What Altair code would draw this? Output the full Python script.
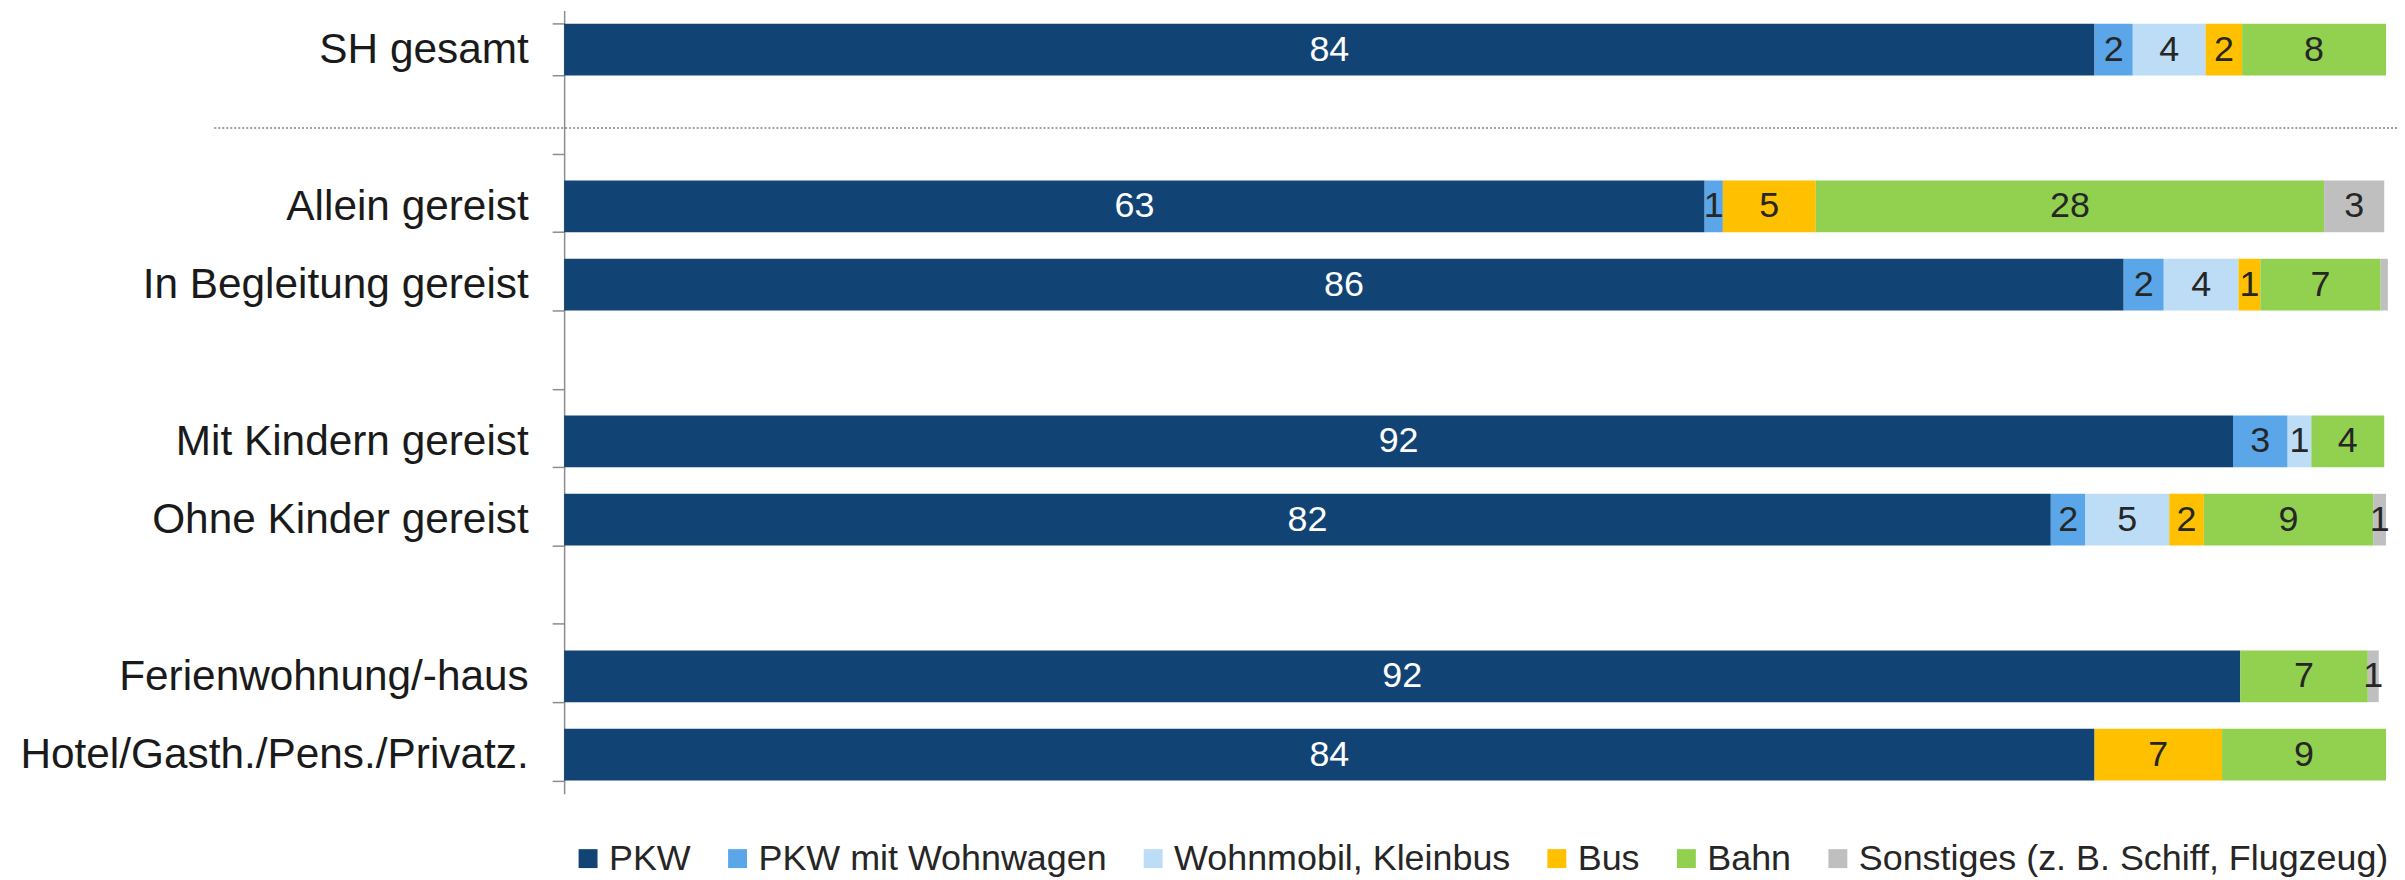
import altair as alt
import pandas as pd

# Rows of the chart (blank strings are empty separator rows)
rows = ["SH gesamt", " ", "Allein gereist", "In Begleitung gereist", "  ",
        "Mit Kindern gereist", "Ohne Kinder gereist", "   ",
        "Ferienwohnung/-haus", "Hotel/Gasth./Pens./Privatz."]

categories = ["SH gesamt", "Allein gereist", "In Begleitung gereist",
              "Mit Kindern gereist", "Ohne Kinder gereist",
              "Ferienwohnung/-haus", "Hotel/Gasth./Pens./Privatz."]

modes = ["PKW", "PKW mit Wohnwagen", "Wohnmobil, Kleinbus", "Bus", "Bahn",
         "Sonstiges (z. B. Schiff, Flugzeug)"]
colors = ["#114474", "#5AA6E9", "#BDDCF6", "#FFC000", "#92D050", "#BFBFBF"]

pkw       = [84.0, 62.6, 85.6, 91.6, 81.6, 92.0, 84.0]
mit_ww    = [2.1, 1.0, 2.2, 3.0, 1.9, 0.0, 0.0]
wohnmobil = [4.0, 0.0, 4.1, 1.3, 4.6, 0.0, 0.0]
bus       = [2.0, 5.1, 1.2, 0.0, 1.9, 0.0, 7.0]
bahn      = [7.9, 27.9, 6.6, 4.0, 9.3, 7.0, 9.0]
sonstiges = [0.0, 3.3, 0.4, 0.0, 0.7, 0.6, 0.0]

series = [pkw, mit_ww, wohnmobil, bus, bahn, sonstiges]

records = []
for mi, (mode, vals) in enumerate(zip(modes, series)):
    for cat, v in zip(categories, vals):
        if v > 0:
            records.append({
                "cat": cat, "mode": mode, "order": mi, "value": v,
                "label": f"{v:.0f}" if v >= 0.5 else "",
            })
df = pd.DataFrame(records)

font = "Liberation Sans"

y_enc = alt.Y(
    "cat:N",
    scale=alt.Scale(domain=rows, paddingInner=0.34, paddingOuter=0.17),
    axis=alt.Axis(
        title=None, labelFontSize=42.5, labelFont=font, labelColor="#1a1a1a",
        labelPadding=24, tickSize=12, tickBand="extent",
        domainColor="#8c8c8c", tickColor="#8c8c8c",
        domainWidth=1.5, tickWidth=1.5, labelLimit=1000, grid=False,
    ),
)

base = alt.Chart(df).transform_stack(
    stack="value", groupby=["cat"], as_=["x0", "x1"],
    sort=[alt.SortField("order", order="ascending")],
)

x_scale = alt.Scale(domain=[0, 100], nice=False, zero=True)

bars = base.mark_bar().encode(
    y=y_enc,
    x=alt.X("x0:Q", scale=x_scale, axis=None),
    x2="x1:Q",
    color=alt.Color(
        "mode:N",
        scale=alt.Scale(domain=modes, range=colors),
        legend=alt.Legend(
            title=None, orient="none", legendX=6, legendY=833,
            direction="horizontal", symbolType="square", symbolSize=361,
            symbolStrokeWidth=0, labelFontSize=36, labelFont=font,
            labelColor="#262626", columnPadding=28, labelOffset=3,
            labelLimit=1000,
        ),
    ),
)

labels = base.transform_calculate(
    mid="(datum.x0 + datum.x1) / 2"
).mark_text(fontSize=36, font=font, baseline="middle", align="center").encode(
    y=alt.Y("cat:N"),
    x=alt.X("mid:Q", scale=x_scale, axis=None),
    text="label:N",
    color=alt.condition(alt.datum.mode == "PKW", alt.value("white"),
                        alt.value("#262626")),
)

sep = pd.DataFrame({"cat": [" "]})
divider = alt.Chart(sep).mark_rule(
    color="#7f7f7f", strokeDash=[2, 2], strokeWidth=1.5
).encode(
    y=alt.Y("cat:N"),
    x=alt.value(-351),
    x2=alt.value(1839),
)

chart = alt.layer(bars, labels, divider).properties(
    width=1828, height=786,
    padding={"left": 558, "top": 1, "right": 11, "bottom": 85},
    autosize="none",
).configure_view(stroke=None)

chart.save("out.html", embed_options={"renderer": "svg", "actions": False})
